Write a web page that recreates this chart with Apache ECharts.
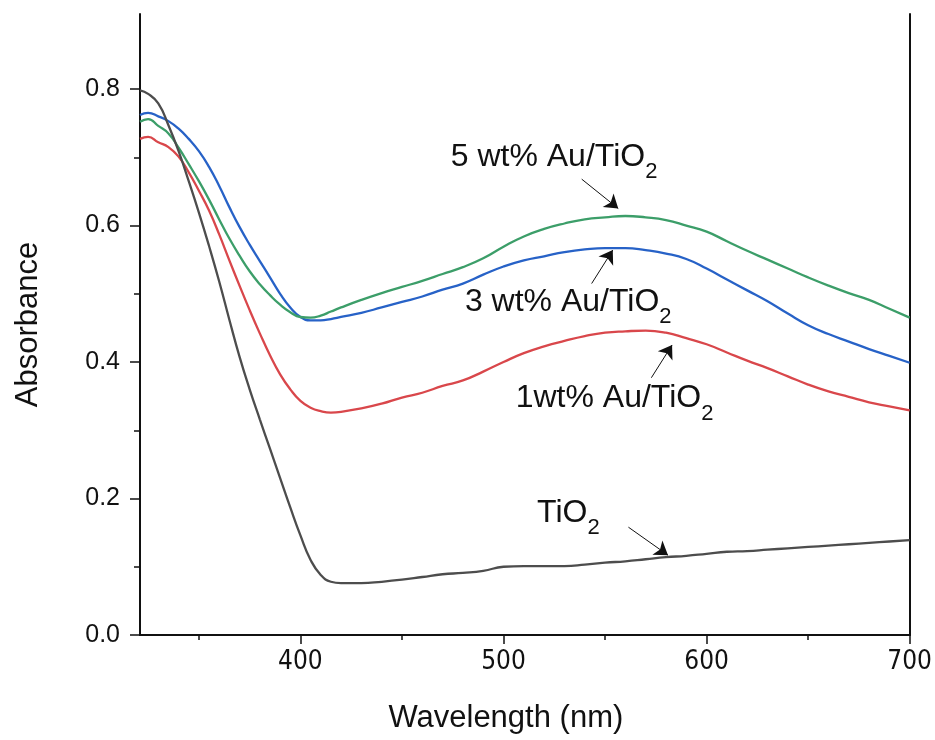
<!DOCTYPE html>
<html>
<head>
<meta charset="utf-8">
<script src="https://cdn.jsdelivr.net/npm/echarts@6/dist/echarts.min.js"></script>
<style>
  html, body { margin: 0; padding: 0; background: #fff; }
  #JS_Chart { width: 935px; height: 740px; }
</style>
</head>
<body>
<div id="JS_Chart"></div>
<script>
// wavelength (nm) shared by all spectra
const wavelength = [321, 325, 330, 335, 340, 345, 350, 355, 360, 365, 370, 375, 380, 385, 390, 395, 400, 405, 410, 415, 420,
  430, 440, 450, 460, 470, 480, 490, 500, 510, 520, 530, 540, 550, 560, 570, 580, 590, 600,
  610, 620, 630, 640, 650, 660, 670, 680, 690, 700];

const tio2 = [0.798, 0.793, 0.779, 0.747, 0.709, 0.665, 0.619, 0.570, 0.518, 0.462, 0.408, 0.360, 0.316, 0.273, 0.230, 0.187, 0.146, 0.110, 0.088, 0.078, 0.076,
  0.076, 0.078, 0.081, 0.085, 0.089, 0.091, 0.094, 0.100, 0.101, 0.101, 0.101, 0.103, 0.106, 0.108, 0.111, 0.114, 0.116, 0.119,
  0.122, 0.123, 0.125, 0.127, 0.129, 0.131, 0.133, 0.135, 0.137, 0.139];

const au1 = [0.727, 0.730, 0.722, 0.715, 0.701, 0.678, 0.651, 0.622, 0.587, 0.549, 0.512, 0.476, 0.442, 0.410, 0.382, 0.360, 0.343, 0.333, 0.328, 0.326, 0.327,
  0.332, 0.339, 0.348, 0.355, 0.365, 0.373, 0.386, 0.400, 0.413, 0.423, 0.431, 0.438, 0.443, 0.445, 0.446, 0.443, 0.435, 0.426,
  0.414, 0.402, 0.391, 0.379, 0.367, 0.357, 0.349, 0.341, 0.335, 0.329];

const au3 = [0.762, 0.765, 0.760, 0.753, 0.742, 0.727, 0.709, 0.686, 0.658, 0.627, 0.598, 0.572, 0.548, 0.524, 0.500, 0.480, 0.466, 0.461, 0.461, 0.463, 0.466,
  0.472, 0.480, 0.488, 0.496, 0.506, 0.515, 0.528, 0.540, 0.549, 0.555, 0.561, 0.565, 0.567, 0.567, 0.564, 0.559, 0.551, 0.537,
  0.521, 0.505, 0.489, 0.471, 0.454, 0.441, 0.430, 0.419, 0.409, 0.399];

const au5 = [0.752, 0.756, 0.746, 0.735, 0.714, 0.690, 0.665, 0.638, 0.609, 0.581, 0.556, 0.533, 0.514, 0.498, 0.484, 0.473, 0.466, 0.465, 0.468, 0.474, 0.480,
  0.491, 0.501, 0.510, 0.519, 0.529, 0.539, 0.552, 0.569, 0.584, 0.595, 0.603, 0.609, 0.612, 0.614, 0.612, 0.608, 0.600, 0.591,
  0.577, 0.563, 0.550, 0.537, 0.524, 0.512, 0.501, 0.491, 0.478, 0.465];

const xMajorTicks = [400, 500, 600, 700];
const xMinorTicks = [350, 450, 550, 650];
const yMajorTicks = [0, 0.2, 0.4, 0.6, 0.8];
const yMinorTicks = [0.1, 0.3, 0.5, 0.7];

// labels: main text (subscript 2 added), left-middle anchor in data coords
const labelText = ["5 wt% Au/TiO", "3 wt% Au/TiO", "1wt% Au/TiO", "TiO"];
const labelAt = [[474, 0.693], [481, 0.481], [506, 0.339], [516.5, 0.171]];
// arrows: [from, to] in data coords
const arrows = [
  [[538.5, 0.668], [556.5, 0.625]],
  [[543.4, 0.515], [553.8, 0.564]],
  [[572.8, 0.377], [583, 0.425]],
  [[561.5, 0.158], [581, 0.117]],
];

let option;

function pairs(ys) {
  return wavelength.map((w, i) => [w, ys[i]]);
}

function lineSeries(name, ys, color) {
  return {
    name: name,
    type: "line",
    data: pairs(ys),
    showSymbol: false,
    symbol: "none",
    smooth: 0.5,
    lineStyle: { color: color, width: 2.3 },
    itemStyle: { color: color },
    z: 2,
  };
}

function initOpt() {
  const font = "Arial, 'Liberation Sans', sans-serif";
  option = {
    animation: false,
    grid: { left: 140, right: 23, top: 14, bottom: 105 },
    xAxis: [
      {
        type: "value",
        min: 321,
        max: 700,
        name: "Wavelength (nm)",
        nameLocation: "middle",
        nameGap: 68,
        nameTextStyle: { fontFamily: font, fontSize: 31, color: "#111", padding: [0, 38, 0, 0] },
        axisLine: { lineStyle: { color: "#111", width: 2 } },
        axisTick: { customValues: xMajorTicks, length: 9, inside: false, lineStyle: { color: "#111", width: 1.5 } },
        axisLabel: {
          customValues: xMajorTicks,
          margin: 14,
          fontFamily: "'Liberation Sans Narrow', 'DejaVu Sans Condensed', Arial, sans-serif",
          fontSize: 26,
          color: "#111",
        },
        splitLine: { show: false },
      },
      {
        type: "value",
        min: 321,
        max: 700,
        position: "bottom",
        axisLine: { show: false },
        axisTick: { customValues: xMinorTicks, length: 5, lineStyle: { color: "#111", width: 1.5 } },
        axisLabel: { show: false },
        splitLine: { show: false },
      },
      {
        type: "value",
        min: 321,
        max: 700,
        position: "top",
        axisLine: { lineStyle: { color: "#111", width: 2 } },
        axisTick: { show: false },
        axisLabel: { show: false },
        splitLine: { show: false },
      },
    ],
    yAxis: [
      {
        type: "value",
        min: 0,
        max: 0.91,
        name: "Absorbance",
        nameLocation: "middle",
        nameGap: 96,
        nameTextStyle: { fontFamily: font, fontSize: 31, color: "#111" },
        axisLine: { show: true, lineStyle: { color: "#111", width: 2 } },
        axisTick: { show: true, customValues: yMajorTicks, length: 10, lineStyle: { color: "#111", width: 1.5 } },
        axisLabel: {
          customValues: yMajorTicks,
          margin: 20,
          fontFamily: font,
          fontSize: 25,
          color: "#111",
          formatter: (v) => v.toFixed(1),
        },
        splitLine: { show: false },
      },
      {
        type: "value",
        min: 0,
        max: 0.91,
        position: "left",
        axisLine: { show: false },
        axisTick: { show: true, customValues: yMinorTicks, length: 6, lineStyle: { color: "#111", width: 1.5 } },
        axisLabel: { show: false },
        splitLine: { show: false },
      },
      {
        type: "value",
        min: 0,
        max: 0.91,
        position: "right",
        axisLine: { show: true, lineStyle: { color: "#111", width: 2 } },
        axisTick: { show: false },
        axisLabel: { show: false },
        splitLine: { show: false },
      },
    ],
    series: [
      lineSeries("1wt% Au/TiO2", au1, "#d9474b"),
      lineSeries("3 wt% Au/TiO2", au3, "#2762c7"),
      lineSeries("5 wt% Au/TiO2", au5, "#3c9e69"),
      lineSeries("TiO2", tio2, "#4d4d4d"),
      {
        // annotations: texts + arrows
        type: "scatter",
        data: [],
        silent: true,
        markPoint: {
          symbol: "circle",
          symbolSize: 0,
          label: {
            show: true,
            position: "right",
            distance: 0,
            color: "#111",
            formatter: (p) => "{a|" + p.name + "}{s|2}",
            rich: {
              a: { fontFamily: font, fontSize: 32, lineHeight: 42, verticalAlign: "top", color: "#111" },
              s: { fontFamily: font, fontSize: 22, lineHeight: 22, verticalAlign: "bottom", color: "#111" },
            },
          },
          data: labelText.map((t, i) => ({ name: t, coord: labelAt[i] })),
        },
        markLine: {
          silent: true,
          symbol: ["none", "arrow"],
          symbolSize: 13,
          lineStyle: { color: "#111", width: 1, type: "solid" },
          itemStyle: { color: "#111" },
          label: { show: false },
          emphasis: { disabled: true },
          data: arrows.map((a) => [{ coord: a[0] }, { coord: a[1] }]),
        },
      },
    ],
  };
}

function initView() {
  initOpt();
  const chartDom = document.getElementById("JS_Chart");
  const chart = echarts.init(chartDom, null, { renderer: "canvas" });
  option && chart.setOption(option);
}

initView();
</script>
</body>
</html>
